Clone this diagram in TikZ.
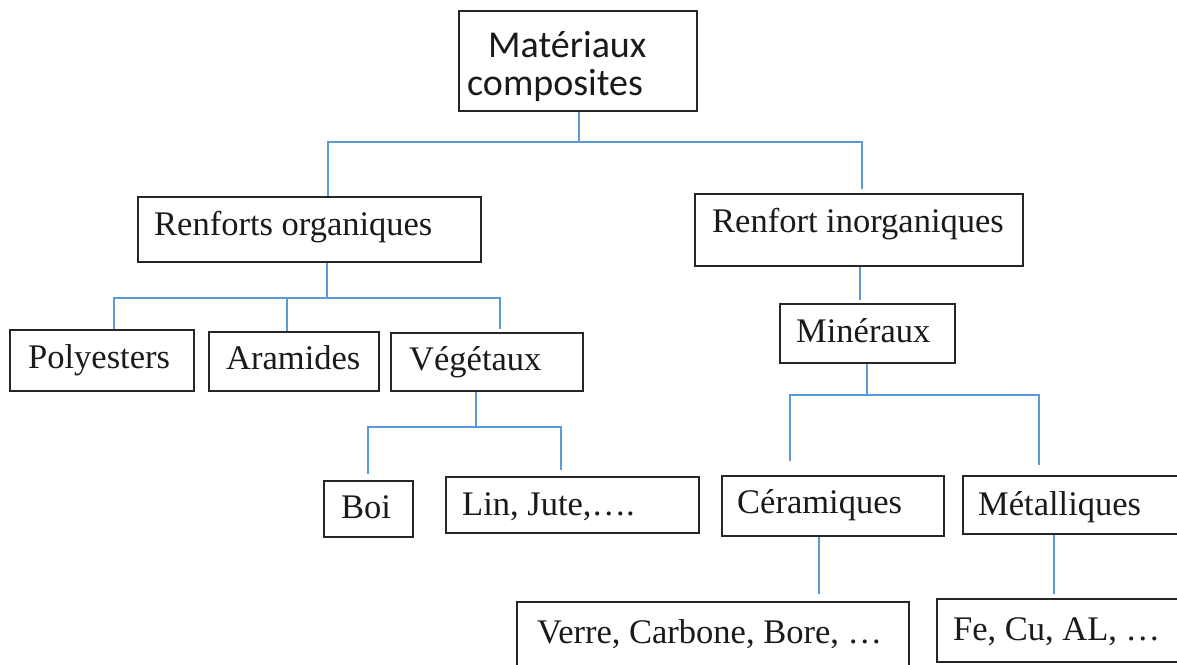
\documentclass[tikz,border=0pt]{standalone}
\usepackage{fontspec}
\setmainfont{Liberation Serif}
\newfontfamily\calibrilike{Carlito}
\definecolor{linkblue}{HTML}{5B9BD5}
\definecolor{boxline}{HTML}{262626}
\definecolor{ink}{HTML}{1A1A1A}
\begin{document}
\begin{tikzpicture}[x=1pt, y=-1pt,
  box/.style={draw=boxline, line width=1.8pt, rectangle, inner sep=0pt, fill=white},
  lbl/.style={anchor=base west, inner sep=0pt, text=ink, font=\fontsize{34.5}{40}\selectfont},
  title/.style={anchor=base west, inner sep=0pt, text=ink, font=\calibrilike\fontsize{38}{44}\selectfont},
  conn/.style={draw=linkblue, line width=1.3pt}
]
\path[use as bounding box] (0,0) rectangle (1177,664);
\clip (0,0) rectangle (1177,664);

% boxes: corners (x1,y1) and (x2,y2)
\newcommand{\boxnode}[5]{%
  \node[box, minimum width={(#4-#2)*1pt}, minimum height={(#5-#3)*1pt}] (#1) at ({(#2+#4)/2},{(#3+#5)/2}) {};}
\boxnode{mat}{459}{11}{697}{111}
\boxnode{ro}{138}{197}{481}{262}
\boxnode{ri}{695}{194}{1023}{266}
\boxnode{poly}{10}{330}{194}{391}
\boxnode{ara}{209}{332}{379}{391}
\boxnode{veg}{391}{333}{583}{391}
\boxnode{boi}{324}{481}{413}{537}
\boxnode{lin}{446}{477}{699}{533}
\boxnode{min}{780}{304}{955}{363}
\boxnode{cer}{722}{476}{944}{536}
\boxnode{met}{963}{476}{1200}{534}
\boxnode{ver}{517}{602}{909}{690}
\boxnode{fe}{937}{599}{1200}{662}

% labels
\node[title] (mat-a) at (488,57) {Matériaux};
\node[title] (mat-b) at (467,95) {composites};
\node[lbl] (ro-t) at (154,235) {Renforts organiques};
\node[lbl] (ri-t) at (712,232) {Renfort inorganiques};
\node[lbl] (poly-t) at (28,368) {Polyesters};
\node[lbl] (ara-t) at (226,369) {Aramides};
\node[lbl] (veg-t) at (409,370) {Végétaux};
\node[lbl] (boi-t) at (341,518) {Boi};
\node[lbl] (lin-t) at (462,515) {Lin, Jute,….};
\node[lbl] (min-t) at (796,342) {Minéraux};
\node[lbl] (cer-t) at (737,513) {Céramiques};
\node[lbl] (met-t) at (978,515) {Métalliques};
\node[lbl] (ver-t) at (537,643) {Verre, Carbone, Bore, …};
\node[lbl] (fe-t) at (953,640) {Fe, Cu, AL, …};

% bus points
\coordinate (m1) at (579,142);
\coordinate (m1l) at (328,142);
\coordinate (m1r) at (862,142);
\coordinate (o1) at (327,298);
\coordinate (o1l) at (114,298);
\coordinate (o1m) at (287,298);
\coordinate (o1r) at (500,298);
\coordinate (v1) at (476,427);
\coordinate (v1l) at (368,427);
\coordinate (v1r) at (561,427);
\coordinate (r1) at (860,300);
\coordinate (n1) at (867,395);
\coordinate (n1l) at (790,395);
\coordinate (n1r) at (1039,395);
\coordinate (c1) at (819,594);
\coordinate (t1) at (1054,594);

% connectors
\draw[conn] (mat.south -| m1) -- (m1);
\draw[conn] (ro.north -| m1l) -- (m1l) -- (m1r) -- ([yshift=4pt]ri.north -| m1r);
\draw[conn] (ro.south -| o1) -- (o1);
\draw[conn] (poly.north -| o1l) -- (o1l) -- (o1r) -- ([yshift=3pt]veg.north -| o1r);
\draw[conn] (o1m) -- (ara.north -| o1m);
\draw[conn] (veg.south -| v1) -- (v1);
\draw[conn] ([yshift=6pt]boi.north -| v1l) -- (v1l) -- (v1r) -- ([yshift=6pt]lin.north -| v1r);
\draw[conn] (ri.south -| r1) -- ([yshift=3pt]min.north -| r1);
\draw[conn] (min.south -| n1) -- (n1);
\draw[conn] ([yshift=14pt]cer.north -| n1l) -- (n1l) -- (n1r) -- ([yshift=10pt]met.north -| n1r);
\draw[conn] (cer.south -| c1) -- (c1);
\draw[conn] (met.south -| t1) -- (t1);
\end{tikzpicture}
\end{document}
